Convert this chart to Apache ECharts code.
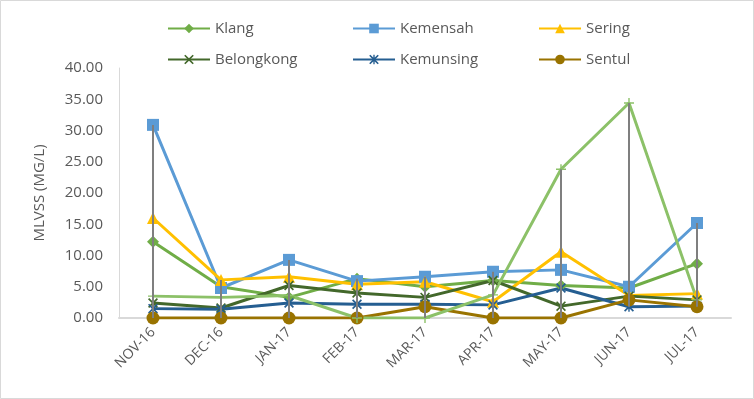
<!DOCTYPE html>
<html>
<head>
<meta charset="utf-8">
<script src="https://cdn.jsdelivr.net/npm/echarts@6/dist/echarts.min.js"></script>
<style>
  html, body { margin: 0; padding: 0; background: #fff; }
  #main { width: 754px; height: 399px; }
</style>
</head>
<body>
<div id="main"></div>
<script>
var months = ['NOV-16', 'DEC-16', 'JAN-17', 'FEB-17', 'MAR-17', 'APR-17', 'MAY-17', 'JUN-17', 'JUL-17'];
var yTicks = [0, 5, 10, 15, 20, 25, 30, 35, 40];

var klang      = [12.2, 5.0, 3.3, 6.3, 5.0, 6.0, 5.2, 4.8, 8.7];
var kemensah   = [30.9, 4.8, 9.3, 5.9, 6.6, 7.4, 7.7, 5.0, 15.2];
var sering     = [16.0, 6.1, 6.6, 5.4, 5.8, 2.6, 10.6, 3.6, 3.9];
var belongkong = [2.4, 1.6, 5.2, 4.0, 3.3, 6.0, 1.9, 3.5, 2.9];
var kemunsing  = [1.5, 1.4, 2.4, 2.2, 2.2, 2.1, 4.8, 1.8, 1.9];
var sentul     = [0, 0, 0, 0, 1.8, 0, 0, 2.9, 1.8];
var extra      = [3.5, 3.3, 3.6, 0, 0, 3.7, 23.8, 34.4, 2.9];   // light green line, not in legend

var txt = '#595959';
var font = 'Open Sans';

// markers drawn as filled paths
var plusPath = 'path://M4.3,0H5.7V4.3H10V5.7H5.7V10H4.3V5.7H0V4.3H4.3Z';
var xPath = 'path://M0,1.2L1.2,0L5,3.8L8.8,0L10,1.2L6.2,5L10,8.8L8.8,10L5,6.2L1.2,10L0,8.8L3.8,5Z';
var starPath = 'path://M0,1.2L1.2,0L5,3.8L8.8,0L10,1.2L6.2,5L10,8.8L8.8,10L5,6.2L1.2,10L0,8.8L3.8,5Z M4.3,0H5.7V10H4.3Z';

function lineSeries(name, data, color, symbol, size) {
    return {
        name: name,
        type: 'line',
        data: data,
        symbol: symbol,
        symbolSize: size,
        showAllSymbol: true,
        lineStyle: { color: color, width: 3 },
        itemStyle: { color: color },
        emphasis: { disabled: true },
        animation: false
    };
}

// high-low range per month from all series
var allSeries = [klang, kemensah, sering, belongkong, kemunsing, sentul, extra];
var hiLo = months.map(function (m, i) {
    var vals = allSeries.map(function (s) { return s[i]; });
    return [i, Math.min.apply(null, vals), Math.max.apply(null, vals)];
});

var myChart = echarts.init(document.getElementById('main'));

function legendCol(left, names) {
    return {
        data: names,
        orient: 'vertical',
        left: left,
        top: 16,
        itemWidth: 42,
        itemHeight: 12,
        itemGap: 16,
        textStyle: { color: txt, fontSize: 15, fontFamily: font },
        selectedMode: false
    };
}

var option = {
    backgroundColor: '#fff',
    textStyle: { fontFamily: font },
    graphic: [{
        type: 'rect',
        shape: { x: 0.5, y: 0.5, width: 753, height: 398 },
        style: { fill: 'none', stroke: '#d9d9d9', lineWidth: 1 },
        silent: true
    }],
    legend: [
        legendCol(162, ['Klang', 'Belongkong']),
        legendCol(347, ['Kemensah', 'Kemunsing']),
        legendCol(533, ['Sering', 'Sentul'])
    ],
    grid: { left: 119, right: 23, top: 68, bottom: 81 },
    xAxis: {
        type: 'category',
        data: months,
        boundaryGap: true,
        axisLine: { lineStyle: { color: '#d9d9d9', width: 2 } },
        axisTick: { show: false },
        axisLabel: { rotate: 45, color: txt, fontSize: 14, fontFamily: font, margin: 12 }
    },
    yAxis: {
        type: 'value',
        min: yTicks[0],
        max: yTicks[yTicks.length - 1],
        interval: 5,
        name: 'MLVSS (MG/L)',
        nameLocation: 'middle',
        nameRotate: 90,
        nameGap: 72,
        nameTextStyle: { color: txt, fontSize: 15, fontFamily: font },
        axisLine: { show: true, lineStyle: { color: '#d9d9d9', width: 1 } },
        axisTick: { show: false },
        splitLine: { show: false },
        axisLabel: {
            color: txt, fontSize: 15, fontFamily: font, margin: 16,
            formatter: function (v) { return v.toFixed(2); }
        }
    },
    series: [
        lineSeries('Klang', klang, '#70ad47', 'diamond', 12),
        lineSeries('Kemensah', kemensah, '#5b9bd5', 'rect', 12),
        lineSeries('Sering', sering, '#ffc000', 'triangle', 12),
        lineSeries('Belongkong', belongkong, '#43682b', xPath, 10),
        lineSeries('Kemunsing', kemunsing, '#255e91', starPath, 10),
        lineSeries('Sentul', sentul, '#997300', 'circle', 13),
        lineSeries('Series7', extra, '#8cc168', plusPath, 10),
        {
            name: 'hilo',
            type: 'custom',
            data: hiLo,
            z: 10,
            silent: true,
            animation: false,
            renderItem: function (params, api) {
                var top = api.coord([api.value(0), api.value(2)]);
                var bot = api.coord([api.value(0), api.value(1)]);
                return {
                    type: 'line',
                    shape: { x1: top[0], y1: top[1], x2: bot[0], y2: bot[1] },
                    style: { stroke: '#7f7f7f', lineWidth: 2 }
                };
            }
        }
    ]
};
myChart.setOption(option);
</script>
</body>
</html>
